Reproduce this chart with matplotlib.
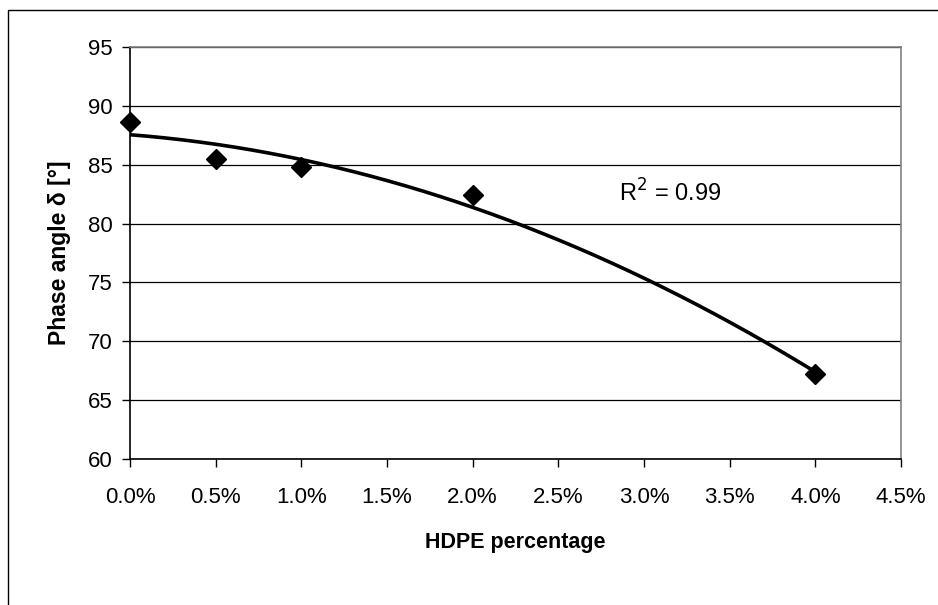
import numpy as np
import matplotlib
matplotlib.use("Agg")
import matplotlib.pyplot as plt
from matplotlib.patches import Rectangle
from matplotlib.ticker import FuncFormatter

plt.rcParams['font.family'] = ['Liberation Sans', 'DejaVu Sans']

hdpe_pct = [0.0, 0.5, 1.0, 2.0, 4.0]
phase_angle = [88.6, 85.5, 84.8, 82.4, 67.2]
r2_label = "R$^2$ = 0.99"
x_label = "HDPE percentage"
y_label = "Phase angle δ [°]"

fig = plt.figure(figsize=(9.38, 6.05), dpi=100)
fig.patches.append(Rectangle((8/938, -0.1), 1.2, (600-5)/605 + 0.1, transform=fig.transFigure,
                             fill=False, edgecolor='black', linewidth=1.0))
ax = fig.add_axes([130/938, 1-459/605, (901-130)/938, (459-47)/605])

coef = np.polyfit(hdpe_pct, phase_angle, 2)
xs = np.linspace(min(hdpe_pct), max(hdpe_pct), 200)
ax.plot(xs, np.polyval(coef, xs), color='black', linewidth=2.6, zorder=3)
ax.plot(hdpe_pct, phase_angle, linestyle='none', marker='D', markersize=10,
        color='black', zorder=4, clip_on=False)

ax.set_xlim(0, 4.5)
ax.set_ylim(60, 95)
ax.set_xticks(np.arange(0, 4.51, 0.5))
ax.set_yticks(np.arange(60, 95.1, 5))
ax.xaxis.set_major_formatter(FuncFormatter(lambda v, p: f"{v:.1f}%"))
ax.yaxis.grid(True, color='black', linewidth=0.9)
ax.set_axisbelow(True)
ax.tick_params(direction='out', length=5.5, width=1, labelsize=16, colors='black')
ax.tick_params(axis='x', pad=15)
ax.tick_params(axis='y', pad=7)

for s in ['left', 'bottom']:
    ax.spines[s].set_color('black')
    ax.spines[s].set_linewidth(1.2)
for s in ['top', 'right']:
    ax.spines[s].set_color('#808080')
    ax.spines[s].set_linewidth(1.2)

ax.set_xlabel(x_label, fontsize=15.5, fontweight='bold', labelpad=17)
ax.set_ylabel(y_label, fontsize=16.5, fontweight='bold', labelpad=12)

ax.text(2.855, 82.6, r2_label, fontsize=17, va='center', ha='left')

fig.savefig("out.png", dpi=100)
